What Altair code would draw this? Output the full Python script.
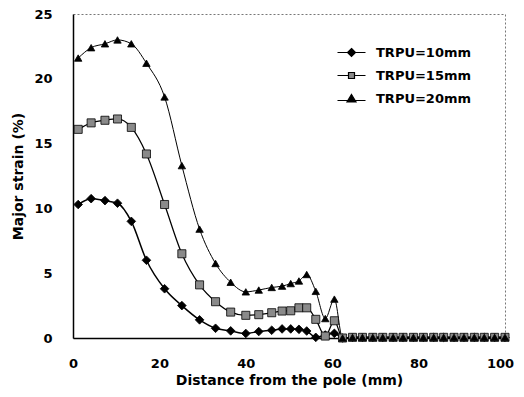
import altair as alt
import pandas as pd

distance = [1.2, 4.2, 7.4, 10.3, 13.5, 17.0, 21.2, 25.2, 29.3, 33.0, 36.5, 40.0, 43.0,
            46.0, 48.4, 50.4, 52.3, 54.1, 56.2, 58.4, 60.5, 62.4,
            64.7, 67.0, 69.4, 71.7, 74.1, 76.4, 78.8, 81.1, 83.5, 85.8, 88.2, 90.5,
            92.9, 95.2, 97.6, 100.0]

tail = [0.05] * 16

trpu10 = [10.3, 10.75, 10.6, 10.4, 9.0, 6.0, 3.8, 2.5, 1.4, 0.75, 0.55, 0.35, 0.5,
          0.6, 0.7, 0.7, 0.67, 0.54, 0.05, 0.23, 0.36, 0.0] + tail
trpu15 = [16.1, 16.6, 16.8, 16.9, 16.25, 14.2, 10.3, 6.5, 4.1, 2.8, 2.0, 1.75, 1.8,
          1.95, 2.08, 2.1, 2.33, 2.33, 1.44, 0.15, 1.33, 0.0] + tail
trpu20 = [21.6, 22.4, 22.7, 23.0, 22.7, 21.2, 18.6, 13.3, 8.4, 5.75, 4.3, 3.56, 3.7,
          3.9, 4.0, 4.2, 4.4, 4.9, 3.6, 1.5, 3.0, 0.0] + tail

series_names = ["TRPU=10mm", "TRPU=15mm", "TRPU=20mm"]

rows = []
for name, vals in zip(series_names, [trpu10, trpu15, trpu20]):
    for d, v in zip(distance, vals):
        rows.append({"distance": d, "strain": v, "series": name})
df = pd.DataFrame(rows)

FONT = "DejaVu Sans"

x = alt.X("distance:Q",
          scale=alt.Scale(domain=[0, 100], nice=False),
          axis=alt.Axis(values=[0, 20, 40, 60, 80, 100], title="Distance from the pole (mm)",
                        grid=False, ticks=False, domainColor="black", domainWidth=1.5,
                        labelFlush=False,
                        labelOffset=alt.condition("datum.value == 100", alt.value(-5), alt.value(0)),
                        labelFont=FONT, labelFontSize=13, labelFontWeight="bold", labelColor="black",
                        labelPadding=19, titleFont=FONT, titleFontSize=14, titleFontWeight="bold",
                        titleColor="black", titlePadding=3))
y = alt.Y("strain:Q",
          scale=alt.Scale(domain=[0, 25], nice=False),
          axis=alt.Axis(values=[0, 5, 10, 15, 20, 25], title="Major strain (%)",
                        grid=False, ticks=False, domainColor="black", domainWidth=1.5,
                        labelFlush=False,
                        labelFont=FONT, labelFontSize=13, labelFontWeight="bold", labelColor="black",
                        labelPadding=21, titleFont=FONT, titleFontSize=14, titleFontWeight="bold",
                        titleColor="black", titlePadding=8))

lines = alt.Chart(df).mark_line(interpolate="monotone", color="black").encode(
    x=x, y=y, detail="series:N",
    strokeWidth=alt.StrokeWidth("series:N", scale=alt.Scale(domain=series_names, range=[1.5, 1.0, 1.5]), legend=None),
)

points = alt.Chart(df).mark_point(filled=True, stroke="black", strokeWidth=0.8, opacity=1).encode(
    x=x, y=y,
    shape=alt.Shape("series:N", scale=alt.Scale(domain=series_names, range=["diamond", "square", "triangle-up"]), legend=None),
    fill=alt.Fill("series:N", scale=alt.Scale(domain=series_names, range=["black", "#8a8a8a", "black"]), legend=None),
    size=alt.Size("series:N", scale=alt.Scale(domain=series_names, range=[75, 55, 120]), legend=None),
)

legend_paths = [
    "M-2.8,0H-0.8M0.8,0H2.8M0,-0.8L0.8,0L0,0.8L-0.8,0Z",
    "M-2.8,0H-0.6M0.6,0H2.8M-0.6,-0.6H0.6V0.6H-0.6Z",
    "M-2.8,0.4H-0.8M0.8,0.4H2.8M0,-0.8L0.9,0.7H-0.9Z",
]

leg = alt.Legend(title=None, orient="none", legendX=272, legendY=32,
                 labelFont=FONT, labelFontSize=13, labelFontWeight="bold", labelColor="black",
                 symbolSize=100, symbolStrokeColor="black", symbolStrokeWidth=1.2,
                 symbolOpacity=1, labelOffset=18, rowPadding=9)

legend_layer = alt.Chart(df).mark_point(filled=False, opacity=0, strokeWidth=1.2).encode(
    x=x, y=y,
    shape=alt.Shape("series:N", scale=alt.Scale(domain=series_names, range=legend_paths), legend=leg),
    fill=alt.Fill("series:N", scale=alt.Scale(domain=series_names, range=["black", "#8a8a8a", "black"]), legend=leg),
    stroke=alt.Stroke("series:N", scale=alt.Scale(domain=series_names, range=["black", "black", "black"]), legend=leg),
)

chart = alt.layer(lines, points, legend_layer).resolve_scale(
    shape="independent", fill="independent", size="independent", stroke="independent"
).properties(
    width=432, height=324,
    autosize=alt.AutoSizeParams(type="none"),
    padding={"left": 65, "top": 6, "right": 11, "bottom": 51},
    background="white",
).configure_view(stroke="#777777", strokeDash=[2, 2], strokeWidth=1)

chart.save("out.html", embed_options={"renderer": "svg", "actions": False})
